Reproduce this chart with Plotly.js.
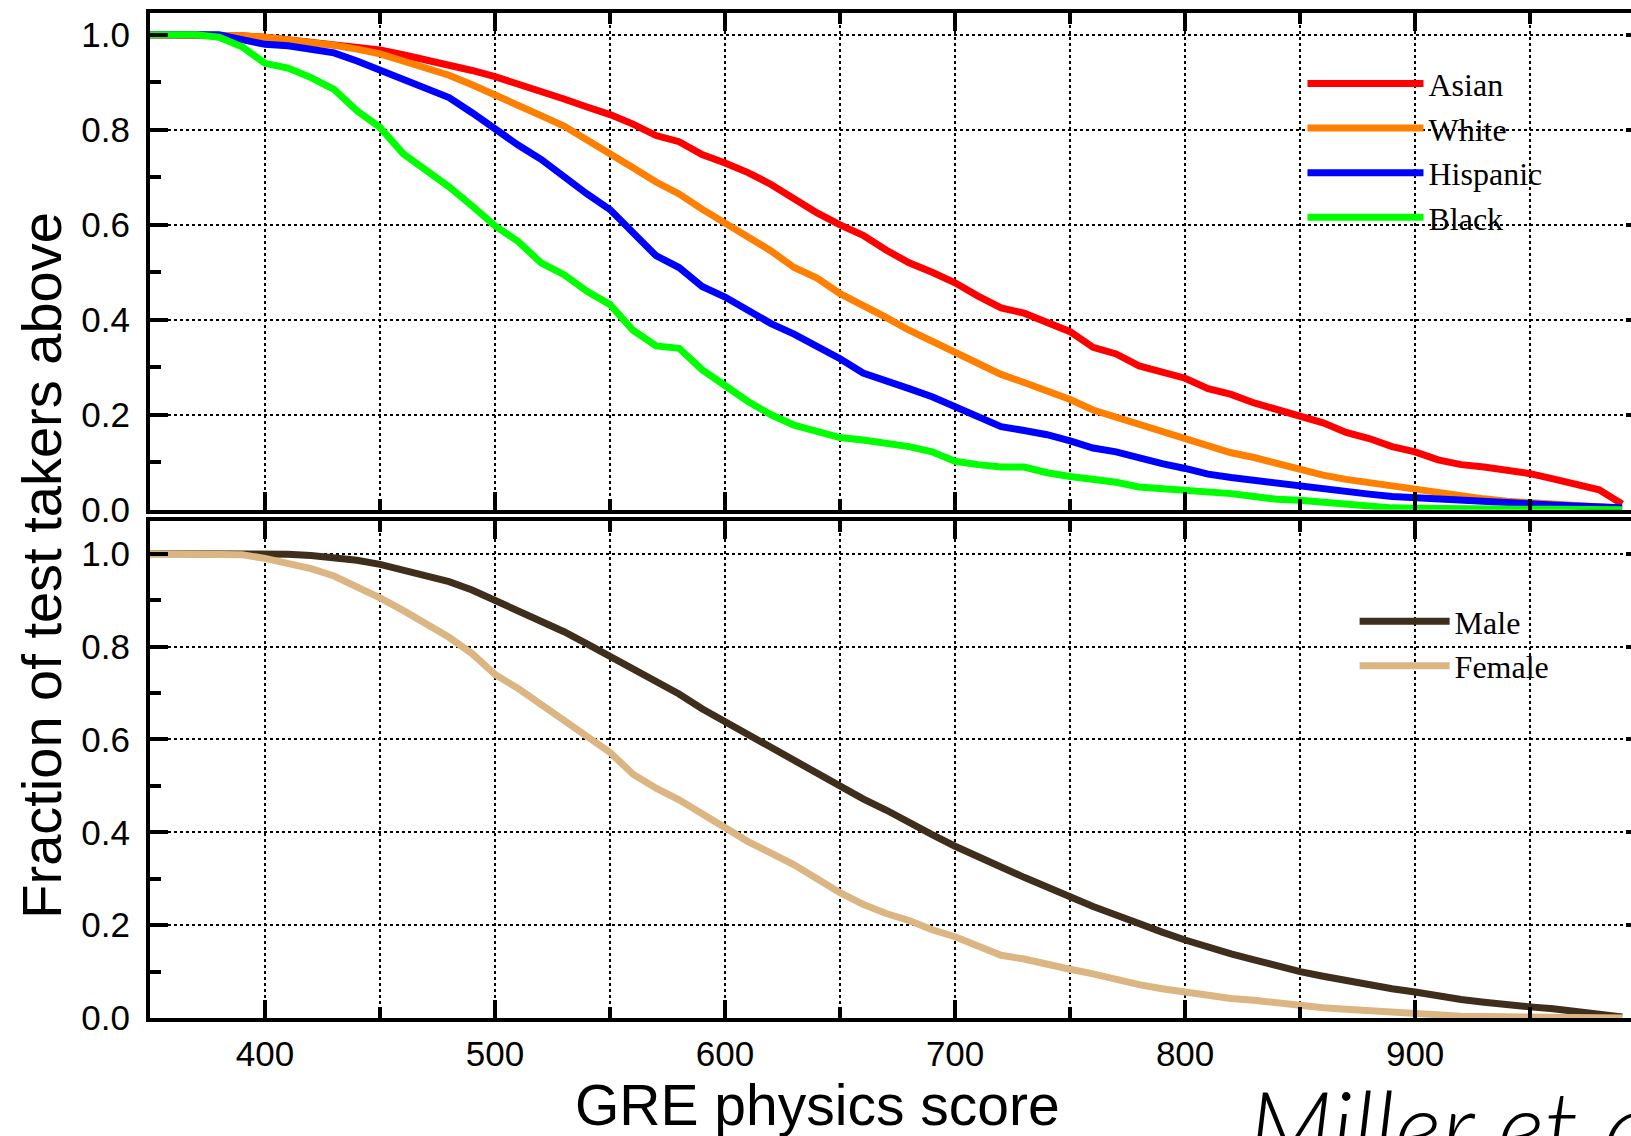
<!DOCTYPE html>
<html>
<head>
<meta charset="utf-8">
<script src="https://cdn.plot.ly/plotly-3.0.1.min.js"></script>
<style>
html, body { margin: 0; padding: 0; overflow: hidden; background: #fff; }
#chart { width: 1660px; height: 1136px; }
</style>
</head>
<body>
<div id="chart"></div>
<script>
// GRE physics score (x values)
const scores = [350,360,370,380,390,400,410,420,430,440,450,460,470,480,490,500,510,520,530,540,
  550,560,570,580,590,600,610,620,630,640,650,660,670,680,690,700,710,720,730,740,
  750,760,770,780,790,800,810,820,830,840,850,860,870,880,890,900,910,920,930,940,
  950,960,970,980,990];

// Top panel: fraction of test takers above, by ethnicity
const asian = [1.0,1.0,1.0,1.0,0.998, 0.995,0.99,0.985,0.98,0.975, 0.968,0.958,0.948,0.938,0.925,
  0.912,0.897,0.882,0.865,0.848, 0.832,0.812,0.788,0.775,0.748, 0.73,0.71,0.685,0.655,0.625,
  0.6,0.578,0.547,0.52,0.5, 0.478,0.45,0.425,0.414,0.395, 0.375,0.342,0.328,0.303,0.29,
  0.277,0.255,0.243,0.225,0.21, 0.198,0.183,0.163,0.15,0.133, 0.122,0.105,0.095,0.09,0.083,
  0.076,0.065,0.055,0.042,0.012];
const white = [1.0,1.0,1.0,1.0,0.998, 0.995,0.99,0.985,0.978,0.97, 0.96,0.945,0.93,0.915,0.895,
  0.872,0.853,0.83,0.808,0.78, 0.752,0.72,0.69,0.665,0.633, 0.603,0.575,0.545,0.51,0.488,
  0.455,0.432,0.405,0.378,0.355, 0.333,0.31,0.285,0.268,0.25, 0.232,0.21,0.195,0.178,0.163,
  0.148,0.133,0.12,0.11,0.097, 0.085,0.073,0.064,0.057,0.05, 0.043,0.035,0.028,0.023,0.018,
  0.015,0.011,0.008,0.005,0.003];
const hispanic = [1.0,1.0,1.0,1.0,0.99, 0.98,0.977,0.97,0.962,0.945, 0.925,0.905,0.888,0.868,0.836,
  0.8,0.768,0.738,0.7,0.665, 0.632,0.585,0.535,0.51,0.47, 0.448,0.42,0.392,0.37,0.345,
  0.318,0.288,0.27,0.255,0.238, 0.218,0.195,0.175,0.167,0.158, 0.145,0.13,0.122,0.108,0.097,
  0.087,0.075,0.068,0.062,0.055, 0.05,0.042,0.037,0.033,0.028, 0.025,0.022,0.02,0.018,0.015,
  0.012,0.01,0.008,0.006,0.004];
const black = [1.0,1.0,1.0,0.995,0.975, 0.94,0.93,0.91,0.885,0.84, 0.805,0.75,0.715,0.68,0.64,
  0.598,0.565,0.52,0.495,0.46, 0.432,0.378,0.345,0.34,0.295, 0.26,0.228,0.2,0.178,0.165,
  0.152,0.147,0.14,0.133,0.122, 0.102,0.095,0.09,0.09,0.078, 0.07,0.065,0.058,0.048,0.045,
  0.04,0.037,0.034,0.028,0.022, 0.02,0.016,0.01,0.006,0.004, 0.003,0.002,0.002,0.002,0.001,
  0.001,0.001,0.001,0.001,0.0];

// Bottom panel: by gender
const male = [1.0,1.0,1.0,1.0,1.0, 1.0,0.999,0.996,0.992,0.986, 0.977,0.965,0.952,0.94,0.922,
  0.9,0.877,0.855,0.832,0.806, 0.779,0.749,0.721,0.698,0.666, 0.638,0.612,0.583,0.553,0.527,
  0.497,0.472,0.448,0.42,0.395, 0.37,0.347,0.323,0.303,0.282, 0.26,0.24,0.222,0.202,0.185,
  0.168,0.152,0.138,0.125,0.112, 0.1,0.09,0.08,0.071,0.063, 0.056,0.047,0.04,0.034,0.028,
  0.024,0.02,0.015,0.01,0.002];
const female = [1.0,1.0,1.0,1.0,0.998, 0.99,0.98,0.968,0.952,0.93, 0.905,0.878,0.849,0.82,0.785,
  0.74,0.71,0.675,0.64,0.605, 0.572,0.525,0.495,0.47,0.44, 0.41,0.38,0.355,0.33,0.3,
  0.27,0.245,0.225,0.21,0.19, 0.175,0.155,0.135,0.127,0.115, 0.105,0.095,0.083,0.072,0.063,
  0.056,0.048,0.042,0.038,0.032, 0.027,0.022,0.019,0.016,0.013, 0.01,0.005,0.004,0.003,0.002,
  0.002,0.001,0.001,0.001,0.0];

const topNames = ['Asian','White','Hispanic','Black'];
const topSeries = [asian, white, hispanic, black];
const topColors = ['#ff0000','#ff7f00','#0000ff','#00ff00'];
const botNames = ['Male','Female'];
const botSeries = [male, female];
const botColors = ['#3f2e1c','#dbb582'];

const yTitle = 'Fraction of test takers above';
const xTitle = 'GRE physics score';
const credit = 'Miller et al.';

const LW = 7;
const traces = [];
topSeries.forEach((s, i) => traces.push({
  x: scores, y: s, name: topNames[i], type: 'scatter', mode: 'lines',
  xaxis: 'x2', yaxis: 'y2', legend: 'legend',
  line: {color: topColors[i], width: LW}
}));
botSeries.forEach((s, i) => traces.push({
  x: scores, y: s, name: botNames[i], type: 'scatter', mode: 'lines',
  xaxis: 'x', yaxis: 'y', legend: 'legend2',
  line: {color: botColors[i], width: LW}
}));

const sans = 'Liberation Sans, Arial, Helvetica, sans-serif';
const serif = 'Liberation Serif, Times New Roman, serif';

function xAxis(showLabels, anchor) {
  return {
    anchor: anchor, range: [350, 999.5], tickmode: 'linear', tick0: 0, dtick: 100,
    showticklabels: showLabels, ticks: 'inside', ticklen: 18, tickwidth: 4, tickcolor: '#000',
    showline: true, linewidth: 4, linecolor: '#000', mirror: 'ticks',
    showgrid: true, gridcolor: '#000', gridwidth: 2, griddash: 'dot', zeroline: false,
    tickfont: {family: sans, size: 35, color: '#000'}, ticklabelstandoff: 2,
    minor: {dtick: 50, tick0: 0, ticks: 'inside', ticklen: 11, tickwidth: 4, tickcolor: '#000',
            showgrid: true, gridcolor: '#000', gridwidth: 2, griddash: 'dot'}
  };
}
function yAxis(domain, range, anchor) {
  return {
    domain: domain, anchor: anchor, range: range, tickmode: 'linear', tick0: 0, dtick: 0.2,
    tickformat: '.1f', ticks: 'inside', ticklen: 18, tickwidth: 4, tickcolor: '#000',
    showline: true, linewidth: 4, linecolor: '#000', mirror: 'ticks',
    showgrid: true, gridcolor: '#000', gridwidth: 2, griddash: 'dot', zeroline: false,
    tickfont: {family: sans, size: 35, color: '#000'}, ticklabelstandoff: 9,
    minor: {dtick: 0.1, tick0: 0, ticks: 'inside', ticklen: 11, tickwidth: 4, tickcolor: '#000', showgrid: false}
  };
}

const layout = {
  width: 1660, height: 1136,
  margin: {l: 150, r: 16, t: 13, b: 117.5, pad: 0},
  paper_bgcolor: '#fff', plot_bgcolor: '#fff',
  showlegend: true,
  xaxis: xAxis(true, 'y'),
  yaxis: yAxis([0, 0.4941], [0, 1.0696], 'x'),
  xaxis2: xAxis(false, 'y2'),
  yaxis2: yAxis([0.5057, 1], [0, 1.046], 'x2'),
  legend: {x: 0.7714, y: 0.957, xanchor: 'left', yanchor: 'top', bgcolor: 'rgba(0,0,0,0)',
           borderwidth: 0, itemwidth: 116, tracegroupgap: 0,
           font: {family: serif, size: 32, color: '#000'}},
  legend2: {x: 0.8063, y: 0.422, xanchor: 'left', yanchor: 'top', bgcolor: 'rgba(0,0,0,0)',
           borderwidth: 0, itemwidth: 90, tracegroupgap: 0,
           font: {family: serif, size: 32, color: '#000'}},
  annotations: [
    {text: yTitle, xref: 'paper', yref: 'paper', x: -0.0723, y: 0.451, textangle: -90,
     xanchor: 'center', yanchor: 'middle', showarrow: false,
     font: {family: sans, size: 56, color: '#000'}},
    {text: xTitle, xref: 'paper', yref: 'paper', x: 0.4465, y: -0.087,
     xanchor: 'center', yanchor: 'middle', showarrow: false,
     font: {family: sans, size: 57, color: '#000'}},
    {text: credit, xref: 'paper', yref: 'paper', x: 0.7336, y: -0.0443,
     xanchor: 'left', yanchor: 'top', showarrow: false,
     font: {family: 'Lato, Liberation Sans, sans-serif', size: 100, color: '#000', style: 'italic', weight: 300}}
  ]
};

Plotly.newPlot('chart', traces, layout, {displayModeBar: false, staticPlot: true});
</script>
</body>
</html>
